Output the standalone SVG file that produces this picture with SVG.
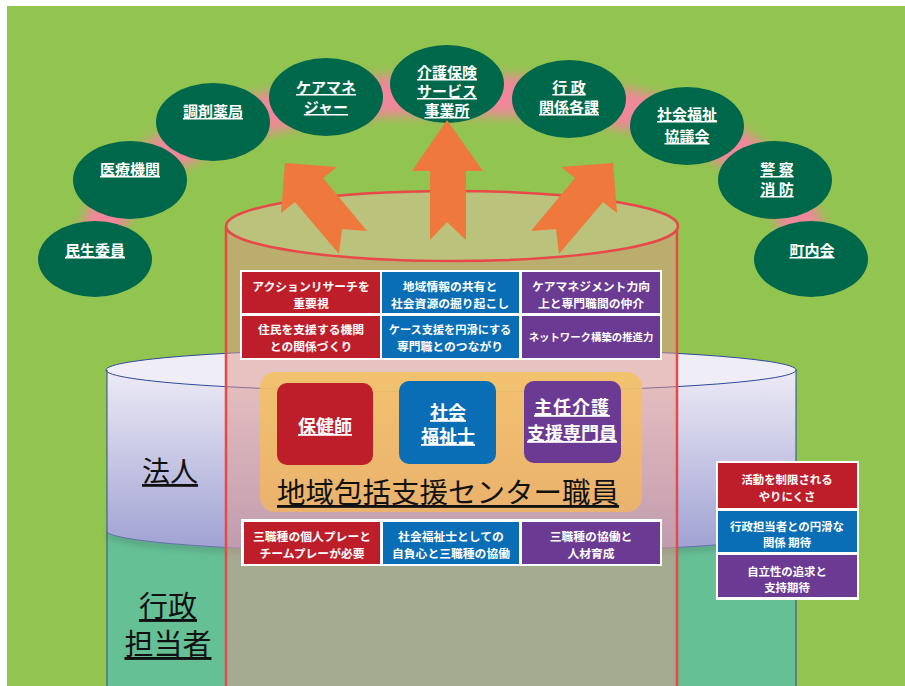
<svg xmlns="http://www.w3.org/2000/svg" width="905" height="686" viewBox="0 0 905 686">
<defs>
<style>
.ov{fill:#00684A;}
.ovt{font-family:"Noto Sans CJK JP",sans-serif;font-size:15px;font-weight:bold;fill:#fff;text-anchor:middle;text-decoration:underline;}
.bx{font-family:"Noto Sans CJK JP",sans-serif;font-size:11.8px;font-weight:bold;fill:#fff;text-anchor:middle;}
.bxs{font-size:11.4px;}
.red{fill:#BE1E2A;}
.blue{fill:#0A6EB6;}
.pur{fill:#6B3A92;}
.arrow{fill:#EF783C;}
.big{font-family:"Noto Sans CJK JP",sans-serif;fill:#111;text-anchor:middle;text-decoration:underline;}
.role{font-family:"Noto Sans CJK JP",sans-serif;font-size:18px;font-weight:bold;fill:#fff;text-anchor:middle;text-decoration:underline;}
</style>
<filter id="blur" x="-20%" y="-50%" width="140%" height="200%"><feGaussianBlur stdDeviation="6"/></filter>
<filter id="sh" x="-10%" y="-50%" width="120%" height="200%"><feGaussianBlur stdDeviation="3"/></filter>
<linearGradient id="lav" x1="0" y1="0" x2="0" y2="1">
<stop offset="0" stop-color="#EDEBF6"/>
<stop offset="1" stop-color="#9EA0D2"/>
</linearGradient>
<linearGradient id="org" x1="0" y1="0" x2="0" y2="1">
<stop offset="0" stop-color="#F3C266"/>
<stop offset="1" stop-color="#EDB466"/>
</linearGradient>
</defs>
<rect x="0" y="0" width="905" height="686" fill="#fff"/>
<rect x="7" y="6" width="898" height="680" fill="#92C450"/>

<path d="M 95 255 C 110 150, 250 90, 460 95 C 680 95, 790 150, 810 255" fill="none" stroke="#F0879A" stroke-width="40" filter="url(#blur)"/>

<g id="node-minsei"><ellipse class="ov" cx="95" cy="259" rx="57" ry="38"/><text class="ovt" x="95" y="256">民生委員</text></g>
<g id="node-iryo"><ellipse class="ov" cx="130" cy="180" rx="57" ry="39"/><text class="ovt" x="130" y="175">医療機関</text></g>
<g id="node-chozai"><ellipse class="ov" cx="213" cy="122" rx="57" ry="39"/><text class="ovt" x="213" y="117">調剤薬局</text></g>
<g id="node-caremane"><ellipse class="ov" cx="326" cy="97" rx="57" ry="39"/><text class="ovt" x="326" y="93">ケアマネ</text><text class="ovt" x="326" y="113">ジャー</text></g>
<g id="node-kaigo"><ellipse class="ov" cx="447" cy="84" rx="57" ry="39"/><text class="ovt" x="447" y="78">介護保険</text><text class="ovt" x="447" y="97">サービス</text><text class="ovt" x="447" y="116">事業所</text></g>
<g id="node-gyosei"><ellipse class="ov" cx="569" cy="99" rx="57" ry="39"/><text class="ovt" x="569" y="93">行 政</text><text class="ovt" x="569" y="113">関係各課</text></g>
<g id="node-shakyo"><ellipse class="ov" cx="687" cy="126" rx="57" ry="39"/><text class="ovt" x="687" y="120">社会福祉</text><text class="ovt" x="687" y="142">協議会</text></g>
<g id="node-keisatsu"><ellipse class="ov" cx="775" cy="180" rx="57" ry="39"/><text class="ovt" x="777" y="175">警 察</text><text class="ovt" x="777" y="195">消 防</text></g>
<g id="node-chonai"><ellipse class="ov" cx="811" cy="259" rx="57" ry="38"/><text class="ovt" x="812" y="256">町内会</text></g>

<g id="cyl-back">
<rect x="107" y="530" width="689" height="160" fill="#66C096"/>
<path d="M107,534 A345,22 0 0 0 796,534" fill="none" stroke="#3a5a50" stroke-width="5" opacity="0.35" filter="url(#sh)"/>
<path d="M107,370 L107,532 A345,22 0 0 0 796,532 L796,370 Z" fill="url(#lav)"/>
<path d="M107,532 A345,22 0 0 0 796,532" fill="none" stroke="#5a5fa8" stroke-width="0.8"/>
<ellipse cx="451" cy="370" rx="345" ry="22" fill="#EFEEF7" stroke="#2D4A9A" stroke-width="1"/>
<line x1="107" y1="370" x2="107" y2="690" stroke="#2D4A9A" stroke-width="1"/>
<line x1="796" y1="370" x2="796" y2="690" stroke="#2D4A9A" stroke-width="1"/>
<text class="big" x="170" y="482" font-size="28">法人</text>
<text class="big" x="168" y="617" font-size="29">行政</text>
<text class="big" x="168" y="655" font-size="29">担当者</text>
</g>

<g id="cyl-front">
<rect x="226" y="226" width="451" height="465" fill="#E2968A" fill-opacity="0.5"/>
<line x1="226" y1="226" x2="226" y2="690" stroke="#E84848" stroke-width="2.5"/>
<line x1="677" y1="226" x2="677" y2="690" stroke="#E84848" stroke-width="2.5"/>
<ellipse cx="452" cy="226" rx="226" ry="35" fill="#BAC27C" stroke="#E84848" stroke-width="2.5"/>
</g>

<g id="connectors">
<polygon class="arrow" points="447,120 483,171 466,171 466,240 447,222 430,240 430,171 412,171"/>
<polygon class="arrow" points="285,163 337,167 323,178 367,231 342,229 339,254 295,202 281,213"/>
<polygon class="arrow" points="613,163 561,167 575,178 531,231 556,229 559,254 603,202 617,213"/>
</g>

<g id="grid-top">
<rect x="240" y="270" width="422" height="90" fill="#fff"/>
<rect class="red" x="242" y="272" width="138" height="41"/>
<rect class="blue" x="382" y="272" width="137" height="41"/>
<rect class="pur" x="522" y="272" width="138" height="41"/>
<rect class="red" x="242" y="316" width="138" height="42"/>
<rect class="blue" x="382" y="316" width="137" height="42"/>
<rect class="pur" x="522" y="316" width="138" height="42"/>
<text class="bx" x="311" y="291">アクションリサーチを</text>
<text class="bx" x="311" y="308">重要視</text>
<text class="bx" x="450" y="291">地域情報の共有と</text>
<text class="bx" x="450" y="308">社会資源の掘り起こし</text>
<text class="bx" x="591" y="291">ケアマネジメント力向</text>
<text class="bx" x="591" y="308">上と専門職間の仲介</text>
<text class="bx" x="311" y="334">住民を支援する機関</text>
<text class="bx" x="311" y="351">との関係づくり</text>
<text class="bx" x="450" y="334" style="font-size:11.2px">ケース支援を円滑にする</text>
<text class="bx" x="450" y="351">専門職とのつながり</text>
<text class="bx" x="591" y="341" style="font-size:10.4px">ネットワーク構築の推進力</text>
</g>

<g id="staff">
<rect x="260" y="372" width="382" height="140" rx="15" fill="url(#org)" fill-opacity="0.9"/>
<g id="node-hokenshi"><rect class="red" x="277" y="383" width="96" height="82" rx="10"/><text class="role" x="325" y="433">保健師</text></g>
<g id="node-shakaifukushishi"><rect class="blue" x="399" y="381" width="97" height="83" rx="10"/><text class="role" x="448" y="419">社会</text><text class="role" x="448" y="443">福祉士</text></g>
<g id="node-shunin"><rect class="pur" x="524" y="381" width="97" height="82" rx="10"/><text class="role" x="572" y="414" style="letter-spacing:1px">主任介護</text><text class="role" x="572" y="440">支援専門員</text></g>
<text class="big" x="448" y="503" font-size="28.5">地域包括支援センター職員</text>
</g>

<g id="grid-bottom">
<rect x="241" y="519" width="421" height="47" fill="#fff"/>
<rect class="red" x="244" y="522" width="136" height="42"/>
<rect class="blue" x="383" y="522" width="136" height="42"/>
<rect class="pur" x="522" y="522" width="138" height="42"/>
<text class="bx" x="312" y="541">三職種の個人プレーと</text>
<text class="bx" x="312" y="558">チームプレーが必要</text>
<text class="bx" x="451" y="541">社会福祉士としての</text>
<text class="bx" x="451" y="558">自負心と三職種の協働</text>
<text class="bx" x="591" y="541">三職種の協働と</text>
<text class="bx" x="591" y="558">人材育成</text>
</g>

<g id="grid-right">
<rect x="716" y="461" width="143" height="139" fill="#fff"/>
<rect class="red" x="718" y="463" width="139" height="45"/>
<rect class="blue" x="718" y="511" width="139" height="41"/>
<rect class="pur" x="718" y="555" width="139" height="42"/>
<text class="bx bxs" x="787" y="484">活動を制限される</text>
<text class="bx bxs" x="787" y="501">やりにくさ</text>
<text class="bx bxs" x="787" y="531">行政担当者との円滑な</text>
<text class="bx bxs" x="787" y="547">関係 期待</text>
<text class="bx bxs" x="787" y="576">自立性の追求と</text>
<text class="bx bxs" x="787" y="592">支持期待</text>
</g>
</svg>
